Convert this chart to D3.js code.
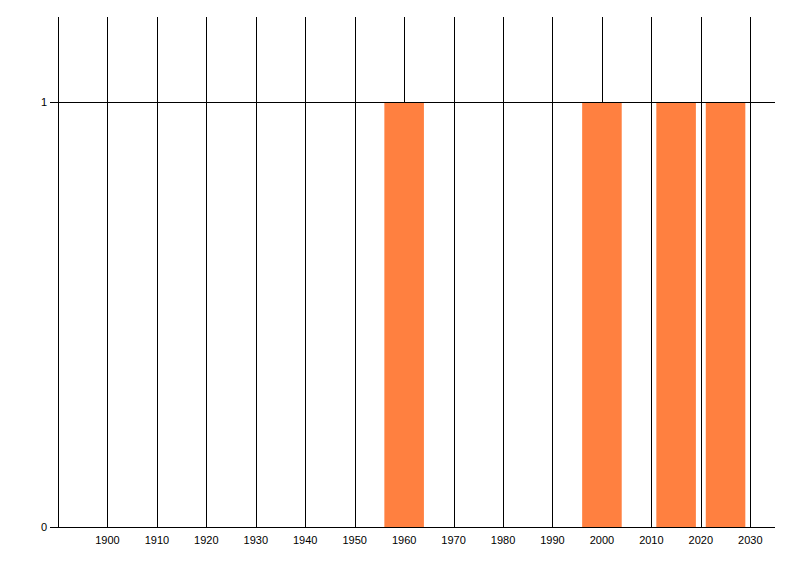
<!DOCTYPE html>
<html>
<head>
<meta charset="utf-8">
<script src="https://cdn.jsdelivr.net/npm/d3@7"></script>
<style>
  body { margin: 0; background: #fff; }
  text { font-family: 'Liberation Sans', Arial, sans-serif; font-size: 11px; fill: #000; }
</style>
</head>
<body>
<script>
const years = [1960, 2000, 2015, 2025]
const values = [1, 1, 1, 1]
const xTicks = [1900, 1910, 1920, 1930, 1940, 1950, 1960, 1970, 1980, 1990, 2000, 2010, 2020, 2030]
const yTicks = [0, 1]

const width = 800
const height = 576
const plotLeft = 58
const plotRight = 775
const plotTop = 17
const plotBottom = 527
const barHalf = 4

const x = d3.scaleLinear().domain([1890, 2035]).range([plotLeft, plotRight])
const y = d3.scaleLinear().domain([0, 1.2]).range([plotBottom, plotTop])

const svg = d3.select('body')
  .append('svg')
  .attr('width', width)
  .attr('height', height)

// vertical grid
svg.append('g')
  .selectAll('line')
  .data(xTicks)
  .enter()
  .append('line')
  .attr('x1', (d) => Math.round(x(d)) + 0.5)
  .attr('x2', (d) => Math.round(x(d)) + 0.5)
  .attr('y1', plotTop)
  .attr('y2', plotBottom)
  .attr('stroke', '#000')

// bars
svg.append('g')
  .selectAll('rect')
  .data(years)
  .enter()
  .append('rect')
  .attr('x', (d) => x(d - barHalf))
  .attr('width', (d) => x(d + barHalf) - x(d - barHalf))
  .attr('y', (d, i) => y(values[i]))
  .attr('height', (d, i) => y(0) - y(values[i]))
  .attr('fill', '#ff8040')

// horizontal grid + y ticks
svg.append('g')
  .selectAll('line')
  .data(yTicks)
  .enter()
  .append('line')
  .attr('x1', plotLeft - 8)
  .attr('x2', (d) => (d === 0 ? plotLeft : plotRight))
  .attr('y1', (d) => Math.round(y(d)) + 0.5)
  .attr('y2', (d) => Math.round(y(d)) + 0.5)
  .attr('stroke', '#000')

svg.append('g')
  .selectAll('text')
  .data(yTicks)
  .enter()
  .append('text')
  .attr('x', plotLeft - 11)
  .attr('y', (d) => y(d))
  .attr('dy', '0.35em')
  .attr('text-anchor', 'end')
  .text((d) => d)

// axes lines
svg.append('line')
  .attr('x1', plotLeft + 0.5).attr('x2', plotLeft + 0.5)
  .attr('y1', plotTop).attr('y2', plotBottom)
  .attr('stroke', '#000')
svg.append('line')
  .attr('x1', plotLeft).attr('x2', plotRight)
  .attr('y1', plotBottom + 0.5).attr('y2', plotBottom + 0.5)
  .attr('stroke', '#000')

svg.append('g')
  .selectAll('text')
  .data(xTicks)
  .enter()
  .append('text')
  .attr('x', (d) => x(d))
  .attr('y', plotBottom + 17)
  .attr('text-anchor', 'middle')
  .text((d) => d)
</script>
</body>
</html>
